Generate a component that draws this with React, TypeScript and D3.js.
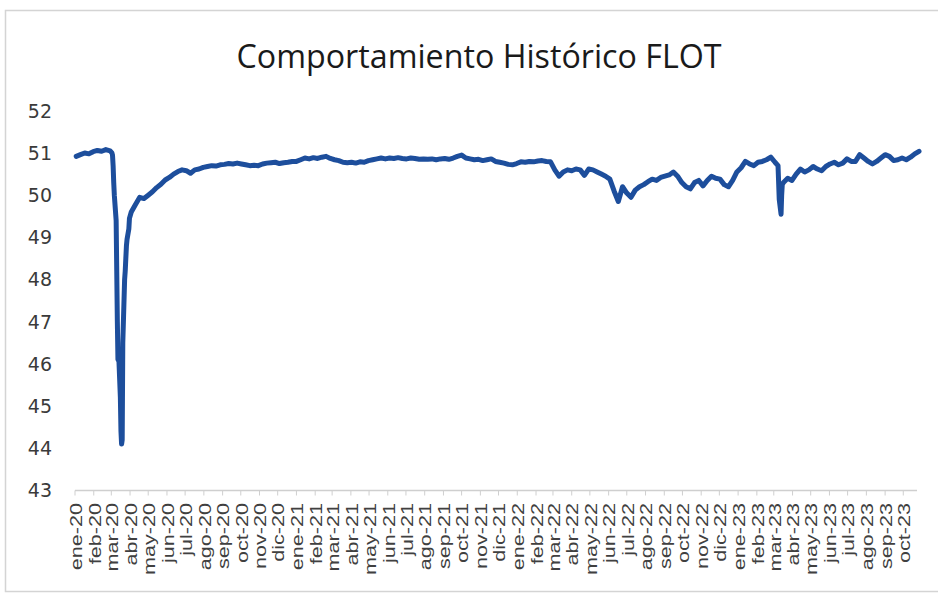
import React from "react";
import * as d3 from "d3";

const TITLE = "Comportamiento Histórico FLOT";
const MONTHS_ES = ["ene", "feb", "mar", "abr", "may", "jun", "jul", "ago", "sep", "oct", "nov", "dic"];
const Y_TICKS = [43, 44, 45, 46, 47, 48, 49, 50, 51, 52];

const flot2020: [string, number][] = [
  ["2020-01-03", 50.92], ["2020-01-10", 50.96], ["2020-01-17", 51.0], ["2020-01-24", 50.98], ["2020-01-31", 51.03],
  ["2020-02-07", 51.06], ["2020-02-14", 51.04], ["2020-02-21", 51.08], ["2020-02-28", 51.05],
  ["2020-03-02", 51.0], ["2020-03-03", 50.95], ["2020-03-04", 50.7], ["2020-03-05", 50.3], ["2020-03-06", 50.0],
  ["2020-03-09", 49.4], ["2020-03-10", 48.2], ["2020-03-11", 47.0], ["2020-03-12", 46.1], ["2020-03-13", 46.3],
  ["2020-03-16", 45.2], ["2020-03-17", 44.4], ["2020-03-18", 44.1], ["2020-03-19", 44.2], ["2020-03-20", 46.5],
  ["2020-03-23", 48.0], ["2020-03-24", 48.2], ["2020-03-25", 48.5], ["2020-03-26", 48.8], ["2020-03-27", 48.95],
  ["2020-03-30", 49.2], ["2020-03-31", 49.45], ["2020-04-03", 49.6], ["2020-04-10", 49.78], ["2020-04-17", 49.95],
  ["2020-04-24", 49.92], ["2020-05-01", 50.0], ["2020-05-08", 50.08], ["2020-05-15", 50.18], ["2020-05-22", 50.26],
  ["2020-05-29", 50.36], ["2020-06-05", 50.42], ["2020-06-12", 50.5], ["2020-06-19", 50.56], ["2020-06-26", 50.6],
  ["2020-07-03", 50.58], ["2020-07-10", 50.52], ["2020-07-17", 50.6], ["2020-07-24", 50.62], ["2020-07-31", 50.66],
  ["2020-08-07", 50.68], ["2020-08-14", 50.7], ["2020-08-21", 50.69], ["2020-08-28", 50.72], ["2020-09-04", 50.73],
  ["2020-09-11", 50.75], ["2020-09-18", 50.74], ["2020-09-25", 50.76], ["2020-10-02", 50.74], ["2020-10-09", 50.72],
  ["2020-10-16", 50.7], ["2020-10-23", 50.71], ["2020-10-30", 50.7], ["2020-11-06", 50.74], ["2020-11-13", 50.76],
  ["2020-11-20", 50.77], ["2020-11-27", 50.78], ["2020-12-04", 50.75], ["2020-12-11", 50.77], ["2020-12-18", 50.78],
  ["2020-12-25", 50.8],
];

const flot2021: [string, number][] = [
  ["2021-01-01", 50.8], ["2021-01-08", 50.84], ["2021-01-15", 50.88], ["2021-01-22", 50.86], ["2021-01-29", 50.89],
  ["2021-02-05", 50.87], ["2021-02-12", 50.9], ["2021-02-19", 50.92], ["2021-02-26", 50.87], ["2021-03-05", 50.84],
  ["2021-03-12", 50.82], ["2021-03-19", 50.78], ["2021-03-26", 50.77], ["2021-04-02", 50.78], ["2021-04-09", 50.76],
  ["2021-04-16", 50.79], ["2021-04-23", 50.78], ["2021-04-30", 50.82], ["2021-05-07", 50.84], ["2021-05-14", 50.86],
  ["2021-05-21", 50.88], ["2021-05-28", 50.86], ["2021-06-04", 50.88], ["2021-06-11", 50.87], ["2021-06-18", 50.89],
  ["2021-06-25", 50.87], ["2021-07-02", 50.86], ["2021-07-09", 50.88], ["2021-07-16", 50.87], ["2021-07-23", 50.85],
  ["2021-07-30", 50.86], ["2021-08-06", 50.85], ["2021-08-13", 50.86], ["2021-08-20", 50.84], ["2021-08-27", 50.86],
  ["2021-09-03", 50.87], ["2021-09-10", 50.85], ["2021-09-17", 50.88], ["2021-09-24", 50.92], ["2021-10-01", 50.95],
  ["2021-10-08", 50.88], ["2021-10-15", 50.86], ["2021-10-22", 50.84], ["2021-10-29", 50.85], ["2021-11-05", 50.82],
  ["2021-11-12", 50.84], ["2021-11-19", 50.86], ["2021-11-26", 50.8], ["2021-12-03", 50.78], ["2021-12-10", 50.76],
  ["2021-12-17", 50.73], ["2021-12-24", 50.72], ["2021-12-31", 50.75],
];

const flot2022: [string, number][] = [
  ["2022-01-07", 50.79], ["2022-01-14", 50.78], ["2022-01-21", 50.8], ["2022-01-28", 50.79], ["2022-02-04", 50.81],
  ["2022-02-11", 50.82], ["2022-02-18", 50.8], ["2022-02-25", 50.79], ["2022-03-04", 50.6], ["2022-03-11", 50.45],
  ["2022-03-18", 50.55], ["2022-03-25", 50.6], ["2022-04-01", 50.58], ["2022-04-08", 50.62], ["2022-04-15", 50.6],
  ["2022-04-22", 50.47], ["2022-04-29", 50.62], ["2022-05-06", 50.6], ["2022-05-13", 50.55], ["2022-05-20", 50.5],
  ["2022-05-27", 50.45], ["2022-06-03", 50.38], ["2022-06-10", 50.1], ["2022-06-17", 49.85], ["2022-06-24", 50.2],
  ["2022-07-01", 50.05], ["2022-07-08", 49.95], ["2022-07-15", 50.12], ["2022-07-22", 50.2], ["2022-07-29", 50.25],
  ["2022-08-05", 50.32], ["2022-08-12", 50.38], ["2022-08-19", 50.35], ["2022-08-26", 50.42], ["2022-09-02", 50.45],
  ["2022-09-09", 50.48], ["2022-09-16", 50.55], ["2022-09-23", 50.45], ["2022-09-30", 50.3], ["2022-10-07", 50.2],
  ["2022-10-14", 50.15], ["2022-10-21", 50.3], ["2022-10-28", 50.35], ["2022-11-04", 50.22], ["2022-11-11", 50.35],
  ["2022-11-18", 50.45], ["2022-11-25", 50.4], ["2022-12-02", 50.38], ["2022-12-09", 50.25], ["2022-12-16", 50.2],
  ["2022-12-23", 50.35], ["2022-12-30", 50.55],
];

const flot2023: [string, number][] = [
  ["2023-01-06", 50.65], ["2023-01-13", 50.8], ["2023-01-20", 50.74], ["2023-01-27", 50.7], ["2023-02-03", 50.78],
  ["2023-02-10", 50.8], ["2023-02-17", 50.84], ["2023-02-24", 50.9], ["2023-03-03", 50.78], ["2023-03-08", 50.7],
  ["2023-03-10", 49.9], ["2023-03-13", 49.55], ["2023-03-14", 50.0], ["2023-03-15", 50.25], ["2023-03-17", 50.3],
  ["2023-03-24", 50.4], ["2023-03-31", 50.35], ["2023-04-07", 50.5], ["2023-04-14", 50.62], ["2023-04-21", 50.55],
  ["2023-04-28", 50.6], ["2023-05-05", 50.68], ["2023-05-12", 50.62], ["2023-05-19", 50.58], ["2023-05-26", 50.68],
  ["2023-06-02", 50.74], ["2023-06-09", 50.78], ["2023-06-16", 50.72], ["2023-06-23", 50.76], ["2023-06-30", 50.86],
  ["2023-07-07", 50.8], ["2023-07-14", 50.8], ["2023-07-21", 50.96], ["2023-07-28", 50.88], ["2023-08-04", 50.8],
  ["2023-08-11", 50.74], ["2023-08-18", 50.8], ["2023-08-25", 50.88], ["2023-09-01", 50.96], ["2023-09-08", 50.92],
  ["2023-09-15", 50.82], ["2023-09-22", 50.84], ["2023-09-29", 50.88], ["2023-10-06", 50.84], ["2023-10-13", 50.9],
  ["2023-10-20", 50.98], ["2023-10-27", 51.04],
];

type Pt = { date: Date; value: number };

export default function App() {
  const W = 938;
  const H = 595;
  const parse = d3.timeParse("%Y-%m-%d");
  const data: Pt[] = [...flot2020, ...flot2021, ...flot2022, ...flot2023].map(([d, v]) => ({
    date: parse(d) as Date,
    value: v,
  }));

  const x = d3.scaleTime().domain([new Date(2020, 0, 1), new Date(2023, 9, 27)]).range([75, 919]);
  const y = d3.scaleLinear().domain([43, 52]).range([490.5, 110.8]);

  const line = d3
    .line<Pt>()
    .x((d) => x(d.date))
    .y((d) => y(d.value))
    .curve(d3.curveLinear);

  const ticks = d3.timeMonth.range(new Date(2020, 0, 1), new Date(2023, 9, 2));
  const label = (d: Date) => `${MONTHS_ES[d.getMonth()]}-${String(d.getFullYear()).slice(2)}`;
  const axisY = y(43);

  return (
    <svg
      width={W}
      height={H}
      viewBox={`0 0 ${W} ${H}`}
      style={{ position: "absolute", left: 0, top: 0, background: "#ffffff" }}
    >
      <rect x={0} y={0} width={W} height={H} fill="#ffffff" />
      <rect x={5.5} y={10.5} width={940} height={581} fill="none" stroke="#d4d4d4" strokeWidth={1.5} />
      <text
        x={479}
        y={68}
        textAnchor="middle"
        fontFamily="'Open Sans', 'Liberation Sans', sans-serif"
        fontSize={32}
        textLength={485}
        lengthAdjust="spacingAndGlyphs"
        fill="#1a1a1a"
      >
        {TITLE}
      </text>

      {Y_TICKS.map((t) => (
        <text
          key={t}
          x={52}
          y={y(t)}
          dy="0.36em"
          textAnchor="end"
          fontFamily="'DejaVu Sans', sans-serif"
          fontSize={19}
          fill="#3a3a3a"
        >
          {t}
        </text>
      ))}

      <line x1={x.range()[0]} x2={917} y1={axisY} y2={axisY} stroke="#cfcfcf" strokeWidth={1.5} />
      {ticks.map((t) => (
        <line key={+t} x1={x(t)} x2={x(t)} y1={axisY} y2={axisY + 5} stroke="#cfcfcf" strokeWidth={1} />
      ))}
      {ticks.map((t) => (
        <text
          key={"l" + +t}
          transform={`translate(${x(t) + 1},${503}) rotate(-90) scale(1.35,1)`}
          dy="0.36em"
          textAnchor="end"
          fontFamily="'Liberation Sans', Arial, sans-serif"
          fontSize={16}
          fill="#404040"
        >
          {label(t)}
        </text>
      ))}

      <path
        d={line(data) || ""}
        fill="none"
        stroke="#1d4e9c"
        strokeWidth={5}
        strokeLinejoin="round"
        strokeLinecap="round"
      />
    </svg>
  );
}
